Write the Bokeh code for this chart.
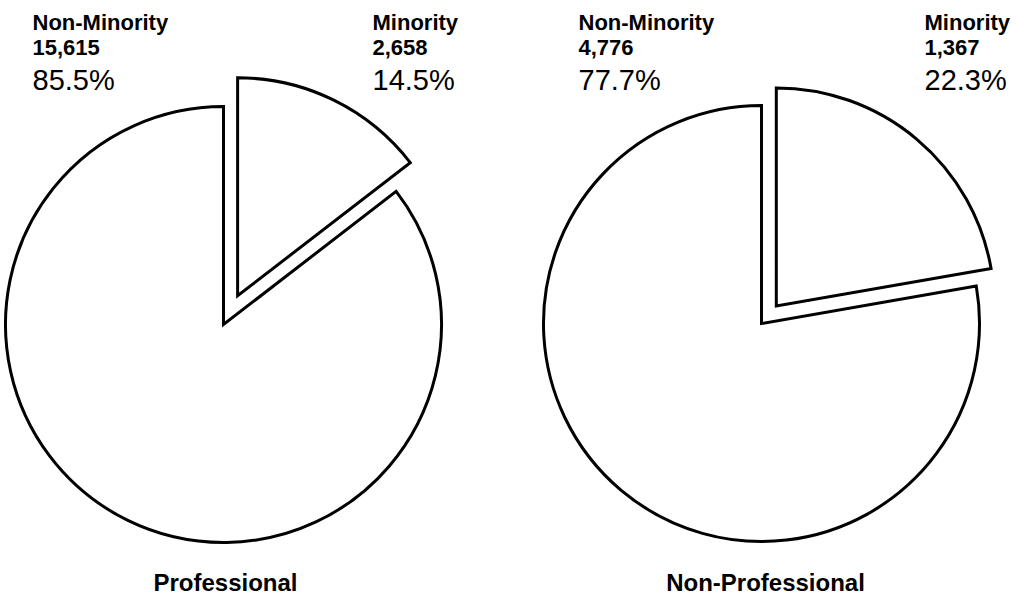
import math
from bokeh.plotting import figure
from bokeh.models import Range1d, ColumnDataSource
from bokeh.core.properties import value
from bokeh.embed import file_html
from bokeh.resources import INLINE

# ---- data ----
groups = ["Professional", "Non-Professional"]
non_minority = [15615, 4776]
minority = [2658, 1367]
non_minority_labels = ["15,615", "4,776"]
minority_labels = ["2,658", "1,367"]
non_minority_pct = ["85.5%", "77.7%"]
minority_pct = ["14.5%", "22.3%"]

# ---- layout (pixels, y up) ----
W, H = 1017, 597
centers_x = [223, 761]
centers_y = [H - 324, H - 323]
radius = 218
explode = [32, 23]
left_text_x = [32, 578]
right_text_x = [372, 924]
title_x = [225, 765]

p = figure(width=W, height=H, x_range=Range1d(0, W), y_range=Range1d(0, H),
           output_backend="svg", toolbar_location=None, min_border=0,
           outline_line_color=None, background_fill_color="white",
           border_fill_color="white")
p.axis.visible = False
p.grid.visible = False

main = dict(x=[], y=[], s=[], e=[])
minr = dict(x=[], y=[], s=[], e=[])
for i in range(len(groups)):
    total = non_minority[i] + minority[i]
    frac = minority[i] / total
    top = math.pi / 2
    split = top - 2 * math.pi * frac
    mid = (top + split) / 2
    main["x"].append(centers_x[i]); main["y"].append(centers_y[i])
    main["s"].append(top); main["e"].append(split + 2 * math.pi)
    minr["x"].append(centers_x[i] + explode[i] * math.cos(mid))
    minr["y"].append(centers_y[i] + explode[i] * math.sin(mid))
    minr["s"].append(split); minr["e"].append(top)

for d in (main, minr):
    p.wedge(x="x", y="y", radius=radius, start_angle="s", end_angle="e",
            direction="anticlock", source=ColumnDataSource(d),
            fill_color="white", line_color="black", line_width=3,
            line_join="miter")

font = value("Liberation Sans")
rows = [H - 22, H - 47, H - 79]
for i in range(len(groups)):
    p.text(x=[left_text_x[i], right_text_x[i]], y=[rows[0]] * 2,
           text=["Non-Minority", "Minority"], text_font=font,
           text_font_style="bold", text_font_size="22px",
           text_baseline="alphabetic", text_color="black")
    p.text(x=[left_text_x[i], right_text_x[i]], y=[rows[1]] * 2,
           text=[non_minority_labels[i], minority_labels[i]], text_font=font,
           text_font_style="bold", text_font_size="22px",
           text_baseline="alphabetic", text_color="black")
    p.text(x=[left_text_x[i], right_text_x[i]], y=[rows[2]] * 2,
           text=[non_minority_pct[i], minority_pct[i]], text_font=font,
           text_font_size="29px", text_baseline="alphabetic",
           text_color="black")

p.text(x=title_x, y=[H - 582] * 2, text=groups, text_font=font,
       text_font_style="bold", text_font_size="24px", text_align="center",
       text_baseline="alphabetic", text_color="black")

open("out.html", "w").write(file_html(p, INLINE))
